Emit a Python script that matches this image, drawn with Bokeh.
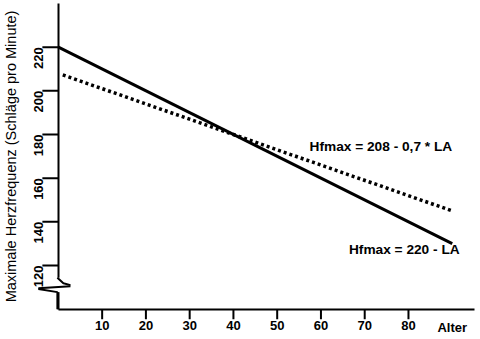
import math
from bokeh.plotting import figure
from bokeh.models import ColumnDataSource
from bokeh.core.properties import value
from bokeh.embed import file_html
from bokeh.resources import INLINE

# ---- data ----
age_solid = [0, 90]
hf_solid = [220, 130]          # Hfmax = 220 - LA
age_dotted = [1, 90]
hf_dotted = [207.3, 145]       # Hfmax = 208 - 0,7 * LA
x_ticks = [10, 20, 30, 40, 50, 60, 70, 80]
y_ticks = [120, 140, 160, 180, 200, 220]
formula_texts = ["Hfmax = 208 - 0,7 * LA", "Hfmax = 220 - LA"]
formula_x = [57.4, 66.4]
formula_y = [174.7, 127.2]
x_title = ["Alter"]
x_title_pos = [90]
y_title = "Maximale Herzfrequenz (Schläge pro Minute)"

FONT = "Liberation Sans"
Y_TICK_LEN = 3.66   # 16 px in age units
X_TICK_LEN = 4.58   # 10 px in bpm units

p = figure(width=480, height=339, x_range=(-13.23, 96.46), y_range=(86.1, 241.39),
           output_backend="svg", toolbar_location=None, min_border=0)
p.outline_line_color = None
p.xgrid.visible = False
p.ygrid.visible = False
p.background_fill_color = "white"
p.border_fill_color = "white"

# y axis, drawn at age 0
ya = p.yaxis[0]
ya.fixed_location = 0
ya.ticker = y_ticks
ya.bounds = (100, 240)
ya.axis_line_width = 2
ya.axis_line_color = "black"
ya.major_tick_out = 16
ya.major_tick_in = 0
ya.major_tick_line_color = None
ya.minor_tick_line_color = None
ya.major_label_orientation = math.pi / 2
ya.major_label_standoff = 4
ya.major_label_text_font = FONT
ya.major_label_text_font_size = "13px"
ya.major_label_text_font_style = "bold"
ya.major_label_text_color = "black"
ya.axis_label = y_title
ya.axis_label_text_font = FONT
ya.axis_label_text_font_size = "14.5px"
ya.axis_label_text_font_style = "normal"
ya.axis_label_text_color = "black"
ya.axis_label_standoff = 8

# x axis, drawn at 100
xa = p.xaxis[0]
xa.fixed_location = 100
xa.ticker = x_ticks
xa.bounds = (0, 95)
xa.axis_line_width = 2
xa.axis_line_color = "black"
xa.major_tick_out = 10
xa.major_tick_in = 0
xa.major_tick_line_color = None
xa.minor_tick_line_color = None
xa.major_label_standoff = 2
xa.major_label_text_font = FONT
xa.major_label_text_font_size = "13px"
xa.major_label_text_font_style = "bold"
xa.major_label_text_color = "black"

# tick marks at the axis tick positions
tick_xs = [[-Y_TICK_LEN, 0] for _ in y_ticks] + [[t, t] for t in x_ticks]
tick_ys = [[t, t] for t in y_ticks] + [[100, 100 - X_TICK_LEN] for _ in x_ticks]
p.multi_line(tick_xs, tick_ys, line_color="black", line_width=2)

# lines
p.line(age_solid, hf_solid, line_color="black", line_width=3)
p.line(age_dotted, hf_dotted, line_color="black", line_width=3.5, line_dash="3 3")

# formula labels
src = ColumnDataSource(dict(x=formula_x, y=formula_y, t=formula_texts))
p.text(x="x", y="y", text="t", source=src, text_font=value(FONT),
       text_font_size="13.7px", text_font_style="bold", text_color="black",
       text_align="left", text_baseline="middle")

# "Alter" in the tick-label row
p.text(x=x_title_pos, y=[100], text=x_title, y_offset=18, text_font=value(FONT),
       text_font_size="13px", text_font_style="bold", text_color="black",
       text_align="center", text_baseline="middle")

# axis break: white gap over the axis line, then the break symbol
p.quad(left=[-0.7], right=[0.7], bottom=[107.8], top=[114.4],
       fill_color="white", line_color=None, level="overlay")
brk_x = [[-0.23, 1.14, 2.75], [-4.58, 2.75], [-4.58, -0.23, -0.23]]
brk_y = [[114.4, 111.9, 111.0], [109.6, 110.5], [109.2, 107.8, 100]]
p.multi_line(brk_x, brk_y, line_color="black", line_width=2, level="overlay")

open("out.html", "w").write(file_html(p, INLINE))
